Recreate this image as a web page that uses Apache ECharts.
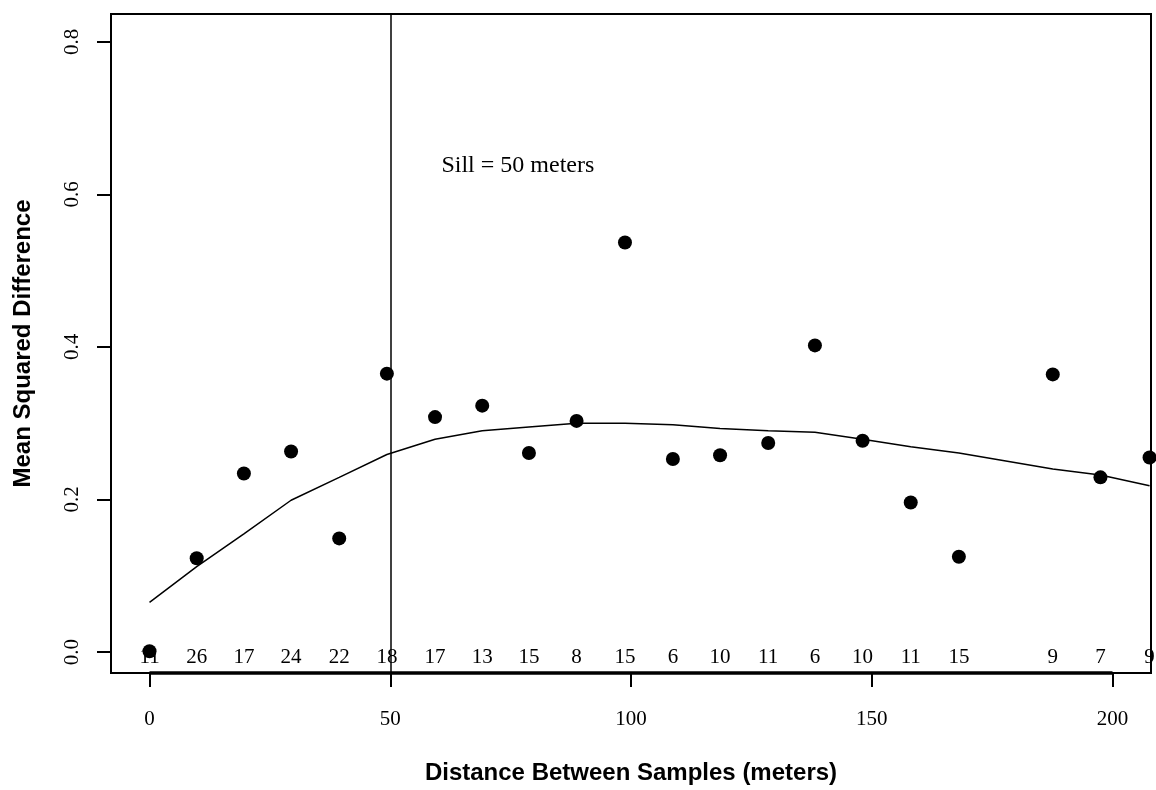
<!DOCTYPE html>
<html>
<head>
<meta charset="utf-8">
<script src="https://cdn.jsdelivr.net/npm/echarts@6/dist/echarts.min.js"></script>
<style>
  html, body { margin: 0; padding: 0; background: #fff; }
  #main { width: 1156px; height: 790px; }
</style>
</head>
<body>
<div id="main"></div>
<script>
// lag distances (meters)
var distance = [0, 9.8, 19.6, 29.4, 39.4, 49.3, 59.3, 69.1, 78.8, 88.7, 98.75,
  108.7, 118.5, 128.5, 138.2, 148.1, 158.1, 168.1, 187.6, 197.5, 207.7];
// empirical mean squared difference per lag
var msd = [0.001, 0.123, 0.234, 0.263, 0.149, 0.365, 0.308, 0.323, 0.261, 0.303, 0.537,
  0.253, 0.258, 0.274, 0.402, 0.277, 0.196, 0.125, 0.364, 0.229, 0.255];
// fitted curve through the same lags
var fitted = [0.065, 0.112, 0.155, 0.199, 0.229, 0.259, 0.279, 0.290, 0.295, 0.300, 0.300,
  0.298, 0.293, 0.290, 0.288, 0.279, 0.269, 0.261, 0.240, 0.232, 0.218];
// number of sample pairs in each lag
var pairCounts = [11, 26, 17, 24, 22, 18, 17, 13, 15, 8, 15, 6, 10, 11, 6, 10, 11, 15, 9, 7, 9];

var xTicks = [0, 50, 100, 150, 200];
var yTicks = [0, 0.2, 0.4, 0.6, 0.8];
var xRange = [-8, 208];
var yRange = [-0.0275, 0.8365];
var sillDistance = 50;
var sillNote = { x: 76.5, y: 0.638, text: 'Sill = 50 meters' };

var serif = 'Liberation Serif';
var sans = 'Liberation Sans';

var chart = echarts.init(document.getElementById('main'));

var option = {
  animation: false,
  backgroundColor: '#fff',
  grid: {
    left: 111, top: 14, right: 5, bottom: 106,
    show: true, borderColor: '#000', borderWidth: 2, backgroundColor: 'transparent'
  },
  xAxis: {
    type: 'value',
    min: xRange[0], max: xRange[1],
    name: 'Distance Between Samples (meters)',
    nameLocation: 'middle',
    nameGap: 88,
    nameTextStyle: { fontFamily: sans, fontWeight: 'bold', fontSize: 24, color: '#000' },
    axisLine: { show: false, onZero: false },
    splitLine: { show: false },
    axisTick: { show: true, length: 14, customValues: xTicks, lineStyle: { color: '#000', width: 2 } },
    axisLabel: {
      customValues: xTicks, margin: 36,
      fontFamily: serif, fontSize: 21, color: '#000'
    }
  },
  yAxis: {
    type: 'value',
    min: yRange[0], max: yRange[1],
    name: 'Mean Squared Difference',
    nameLocation: 'middle',
    nameGap: 76,
    nameRotate: 90,
    nameTextStyle: { fontFamily: sans, fontWeight: 'bold', fontSize: 24, color: '#000' },
    axisLine: { show: false, onZero: false },
    splitLine: { show: false },
    axisTick: { show: true, length: 14, customValues: yTicks, lineStyle: { color: '#000', width: 2 } },
    axisLabel: {
      customValues: yTicks, rotate: 90, margin: 28,
      fontFamily: serif, fontSize: 21, color: '#000',
      formatter: function (v) { return v.toFixed(1); }
    }
  },
  series: [
    // fitted curve + sill marker
    {
      type: 'line',
      data: distance.map(function (d, i) { return [d, fitted[i]]; }),
      symbol: 'none',
      lineStyle: { color: '#000', width: 1.5 },
      markLine: {
        silent: true,
        symbol: ['none', 'none'],
        label: { show: false },
        lineStyle: { color: '#000', width: 1.5, type: 'solid' },
        data: [{ xAxis: sillDistance }]
      },
      z: 3
    },
    // empirical points
    {
      type: 'scatter',
      data: distance.map(function (d, i) { return [d, msd[i]]; }),
      symbol: 'circle',
      symbolSize: 14,
      itemStyle: { color: '#000', opacity: 1 },
      clip: false,
      z: 4
    },
    // pair counts along the bottom
    {
      type: 'scatter',
      data: distance.map(function (d, i) { return [d, 0, pairCounts[i]]; }),
      symbolSize: 0,
      silent: true,
      itemStyle: { opacity: 1 },
      label: {
        show: true, position: 'inside', offset: [0, 5],
        fontFamily: serif, fontSize: 21, color: '#000',
        formatter: function (p) { return String(p.value[2]); }
      },
      z: 5
    },
    // axis line from first to last tick
    {
      type: 'line',
      data: [[xTicks[0], yRange[0]], [xTicks[xTicks.length - 1], yRange[0]]],
      symbol: 'none',
      clip: false,
      lineStyle: { color: '#000', width: 3.5 },
      z: 6
    },
    // annotation
    {
      type: 'scatter',
      data: [[sillNote.x, sillNote.y]],
      symbolSize: 0,
      silent: true,
      itemStyle: { opacity: 1 },
      label: {
        show: true, position: 'inside',
        fontFamily: serif, fontSize: 24, color: '#000',
        formatter: sillNote.text
      }
    }
  ]
};

chart.setOption(option);
</script>
</body>
</html>
